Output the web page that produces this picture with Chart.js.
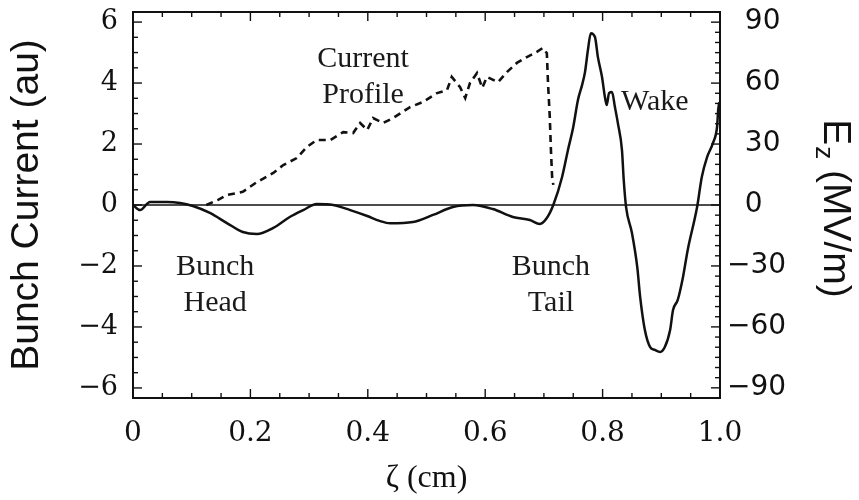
<!DOCTYPE html>
<html>
<head>
<meta charset="utf-8">
<script src="https://cdn.jsdelivr.net/npm/chart.js@4.4.1/dist/chart.umd.min.js"></script>
<style>
  html, body { margin: 0; padding: 0; background: #fff; }
  #wrap { width: 859px; height: 500px; }
</style>
</head>
<body>
<div id="wrap"><canvas id="c" width="859" height="500"></canvas></div>
<script>
// Longitudinal wakefield E_z (MV/m) behind the bunch, vs. position zeta (cm)
const zetaWake = [0.000, 0.012, 0.029, 0.058, 0.080, 0.102, 0.131, 0.160, 0.187, 0.211,
  0.239, 0.267, 0.290, 0.313, 0.341, 0.370, 0.399, 0.420, 0.438, 0.477,
  0.511, 0.545, 0.579, 0.613, 0.647, 0.676, 0.693, 0.705, 0.716, 0.731,
  0.741, 0.750, 0.758, 0.765, 0.770, 0.775, 0.780, 0.787, 0.792, 0.799,
  0.804, 0.807, 0.811, 0.816, 0.821, 0.826, 0.833, 0.836, 0.840, 0.850,
  0.859, 0.864, 0.872, 0.881, 0.889, 0.898, 0.906, 0.915, 0.920, 0.928,
  0.937, 0.945, 0.961, 0.969, 0.978, 0.988, 0.995, 0.998, 1.000];
const ezWake = [0.0, -2.5, 1.5, 1.5, 1.0, -0.5, -3.9, -8.9, -13.3, -14.3,
  -11.3, -5.9, -2.5, 0.5, 0.0, -2.5, -5.4, -7.8, -9.0, -8.4,
  -4.9, -1.0, 0.0, -2.0, -5.9, -7.4, -9.3, -6.4, 0.0, 13.8,
  27.1, 38.4, 51.7, 59.0, 65.4, 76.3, 84.6, 82.7, 72.8, 63.0,
  53.0, 49.2, 55.1, 55.6, 48.2, 40.3, 27.0, 12.3, -1.0, -13.8,
  -30.5, -45.3, -61.5, -69.9, -71.3, -72.3, -69.9, -61.5, -51.7, -46.7,
  -35.4, -22.1, -1.0, 13.8, 23.6, 30.5, 38.4, 50.2, 46.7];

// Bunch current profile (arbitrary units)
const zetaCurrent = [0.125, 0.145, 0.160, 0.187, 0.211, 0.239, 0.256, 0.279, 0.296, 0.313,
  0.336, 0.358, 0.375, 0.387, 0.399, 0.409, 0.426, 0.443, 0.472, 0.494,
  0.518, 0.535, 0.543, 0.557, 0.566, 0.574, 0.586, 0.595, 0.603, 0.622,
  0.637, 0.654, 0.671, 0.688, 0.698, 0.705, 0.707, 0.710, 0.712, 0.714, 0.716];
const bunchCurrent = [0.00, 0.17, 0.33, 0.43, 0.75, 1.05, 1.31, 1.54, 1.90, 2.13,
  2.13, 2.39, 2.36, 2.69, 2.46, 2.85, 2.69, 2.85, 3.21, 3.38,
  3.67, 3.77, 4.20, 3.87, 3.51, 4.00, 4.33, 3.84, 4.20, 4.03,
  4.36, 4.66, 4.85, 5.02, 5.15, 4.98, 4.00, 2.89, 1.80, 0.92, 0.66];

// Axis ticks
const xTickValues = [0, 0.2, 0.4, 0.6, 0.8, 1.0];
const leftTickValues = [-6, -4, -2, 0, 2, 4, 6];
const rightTickValues = [-90, -60, -30, 0, 30, 60, 90];

// Text notes placed in data units (zeta, bunch current)
const noteLines = [
  { x: 0.392, y: 4.52, lines: ['Current', 'Profile'] },
  { x: 0.140, y: -2.30, lines: ['Bunch', 'Head'] },
  { x: 0.712, y: -2.30, lines: ['Bunch', 'Tail'] },
  { x: 0.889, y: 3.11, lines: ['Wake'] }
];

const INK = '#111';
const minus = v => (v < 0 ? '\u2212' + Math.abs(v) : String(v));
// right-hand labels: digits line up, the minus sign hangs to the left
const padRight = v => (v < 0 ? '\u2212' + Math.abs(v) : '\u2007' + v);

const framePlugin = {
  id: 'frameAndNotes',
  afterDraw(chart) {
    const { ctx, chartArea: a, scales } = chart;
    const sx = scales.x, sy = scales.y, sy2 = scales.y2;
    ctx.save();
    ctx.strokeStyle = INK;
    ctx.lineWidth = 2;
    ctx.strokeRect(a.left, a.top, a.right - a.left, a.bottom - a.top);

    // inward tick marks on all four sides
    ctx.lineWidth = 1.4;
    const seg = (x1, y1, x2, y2) => { ctx.beginPath(); ctx.moveTo(x1, y1); ctx.lineTo(x2, y2); ctx.stroke(); };
    for (let i = 0; i <= 20; i++) {
      const v = i * 0.05, px = sx.getPixelForValue(v);
      const L = xTickValues.some(t => Math.abs(t - v) < 1e-6) ? 9 : 5;
      seg(px, a.bottom, px, a.bottom - L);
      seg(px, a.top, px, a.top + L);
    }
    for (let i = -12; i <= 12; i++) {
      const v = i * 0.5, py = sy.getPixelForValue(v);
      const L = leftTickValues.includes(v) ? 9 : 5;
      seg(a.left, py, a.left + L, py);
    }
    for (let i = -18; i <= 18; i++) {
      const v = i * 5, py = sy2.getPixelForValue(v);
      const L = rightTickValues.includes(v) ? 9 : 5;
      seg(a.right, py, a.right - L, py);
    }

    // right axis title with subscript
    ctx.fillStyle = INK;
    ctx.translate(824, (a.top + a.bottom) / 2 + 3);
    ctx.rotate(Math.PI / 2);
    ctx.textBaseline = 'alphabetic';
    ctx.textAlign = 'left';
    const big = '39px "Liberation Sans", Arial, sans-serif';
    const small = '26px "Liberation Sans", Arial, sans-serif';
    ctx.font = big; const wE = ctx.measureText('E').width;
    const rest = ' (MV/m)'; const wR = ctx.measureText(rest).width;
    ctx.font = small; const wZ = ctx.measureText('z').width;
    let s = -(wE + wZ + wR) / 2;
    ctx.font = big; ctx.fillText('E', s, 0);
    ctx.font = small; ctx.fillText('z', s + wE + 1, 8);
    ctx.font = big; ctx.fillText(rest, s + wE + wZ + 1, 0);
    ctx.restore();

    // notes
    ctx.save();
    ctx.fillStyle = '#1a1a1a';
    ctx.font = '30px "Liberation Serif", "Times New Roman", serif';
    ctx.textAlign = 'center';
    ctx.textBaseline = 'alphabetic';
    noteLines.forEach(n => {
      const px = sx.getPixelForValue(n.x), py = sy.getPixelForValue(n.y);
      n.lines.forEach((t, k) => ctx.fillText(t, px, py + k * 36));
    });
    ctx.restore();
  }
};

new Chart(document.getElementById('c'), {
  type: 'scatter',
  data: {
    datasets: [
      {
        label: 'Ez',
        data: zetaWake.map((x, i) => ({ x, y: ezWake[i] })),
        yAxisID: 'y2', showLine: true, borderColor: INK, borderWidth: 2.5,
        pointRadius: 0, cubicInterpolationMode: 'monotone'
      },
      {
        label: 'Current',
        data: zetaCurrent.map((x, i) => ({ x, y: bunchCurrent[i] })),
        yAxisID: 'y', showLine: true, borderColor: INK, borderWidth: 2.6,
        borderDash: [7, 5], pointRadius: 0, tension: 0
      },
      {
        label: 'zero',
        data: [{ x: 0, y: 0 }, { x: 1, y: 0 }],
        yAxisID: 'y', showLine: true, borderColor: INK, borderWidth: 1.4, pointRadius: 0
      }
    ]
  },
  options: {
    responsive: false,
    animation: false,
    devicePixelRatio: 1,
    layout: { padding: { top: 12, left: 0, right: 0, bottom: 0 } },
    plugins: { legend: { display: false }, tooltip: { enabled: false } },
    scales: {
      x: {
        type: 'linear', position: 'bottom', min: 0, max: 1,
        grid: { display: false, drawTicks: false }, border: { display: false },
        afterBuildTicks: s => { s.ticks = xTickValues.map(v => ({ value: v })); },
        afterFit: s => { s.height = 102; s.paddingLeft = 0; s.paddingRight = 0; },
        ticks: {
          color: INK, padding: 22, maxRotation: 0, autoSkip: false,
          font: { family: '"DejaVu Serif", serif', size: 28, lineHeight: 1 },
          callback: v => (v === 0 ? '0' : v.toFixed(1))
        },
        title: {
          display: true, text: '\u03b6 (cm)', color: INK,
          font: { family: '"Liberation Serif", serif', size: 32, lineHeight: 1 },
          padding: { top: 0, bottom: 5 }
        }
      },
      y: {
        type: 'linear', position: 'left', min: -6.33, max: 6.33,
        grid: { display: false, drawTicks: false }, border: { display: false },
        afterBuildTicks: s => { s.ticks = leftTickValues.map(v => ({ value: v })); },
        afterFit: s => { s.width = 133; s.paddingTop = 0; s.paddingBottom = 0; },
        ticks: {
          color: INK, padding: 15,
          font: { family: '"DejaVu Serif", serif', size: 27, lineHeight: 1 },
          callback: v => minus(v)
        },
        title: {
          display: true, text: 'Bunch Current (au)', color: INK,
          font: { family: '"Liberation Sans", Arial, sans-serif', size: 39, lineHeight: 1 },
          padding: { top: 8, bottom: 0 }
        }
      },
      y2: {
        type: 'linear', position: 'right', min: -95, max: 95,
        grid: { display: false, drawTicks: false }, border: { display: false },
        afterBuildTicks: s => { s.ticks = rightTickValues.map(v => ({ value: v })); },
        afterFit: s => { s.width = 139; s.paddingTop = 0; s.paddingBottom = 0; },
        ticks: {
          color: INK, padding: 7,
          font: { family: '"DejaVu Sans", sans-serif', size: 28, lineHeight: 1 },
          callback: v => padRight(v)
        }
      }
    }
  },
  plugins: [framePlugin]
});
</script>
</body>
</html>
